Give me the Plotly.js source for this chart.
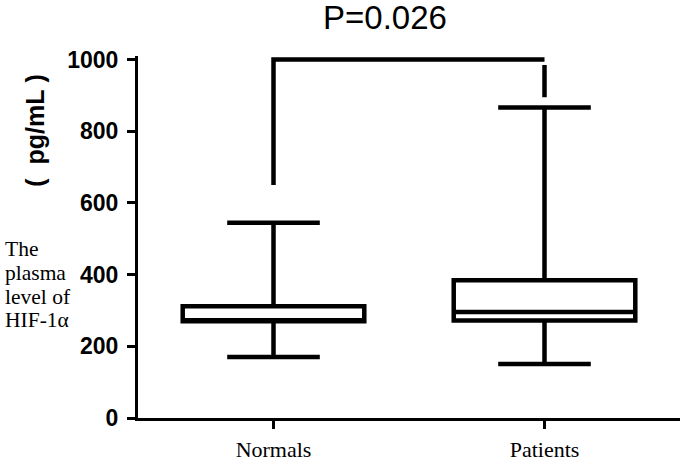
<!DOCTYPE html>
<html>
<head>
<meta charset="utf-8">
<script src="https://cdn.plot.ly/plotly-3.0.1.min.js"></script>
<style>html,body{margin:0;padding:0;background:#fff;}#chart{width:685px;height:462px;}</style>
</head>
<body>
<div id="chart"></div>
<script>
// Data
var groups = ['Normals', 'Patients'];
var lowerFence = [170, 151];
var q1 = [270, 272];
var median = [272, 296];
var q3 = [312, 384];
var upperFence = [545, 866];

var yTickVals = [0, 200, 400, 600, 800, 1000];
var yTickText = ['0', '200', '400', '600', '800', '1000'];

// significance bracket
var bracketX = ['Normals', 'Normals', 'Patients'];
var bracketY = [650, 1000, 1000];
var bracketTickX = ['Patients', 'Patients'];
var bracketTickY = [985, 895];

var pText = 'P=0.026';
var unitText = '(\u00A0\u00A0pg/mL\u00A0)';
var labelLines = ['The', 'plasma', 'level of', 'HIF-1\u03B1'];

var traces = [
  {
    type: 'box',
    x: groups,
    q1: q1,
    median: median,
    q3: q3,
    lowerfence: lowerFence,
    upperfence: upperFence,
    boxpoints: false,
    width: 0.67,
    whiskerwidth: 0.51,
    fillcolor: '#ffffff',
    line: {color: '#000000', width: 4.5},
    hoverinfo: 'skip',
    showlegend: false
  },
  {
    type: 'scatter', mode: 'lines',
    x: bracketX, y: bracketY,
    line: {color: '#000000', width: 4.5},
    cliponaxis: false, showlegend: false, hoverinfo: 'skip'
  },
  {
    type: 'scatter', mode: 'lines',
    x: bracketTickX, y: bracketTickY,
    line: {color: '#000000', width: 4.5},
    cliponaxis: false, showlegend: false, hoverinfo: 'skip'
  }
];

var yMax = 1010;
var plotL = 138, plotR = 680, plotB = 418;
var pxPerUnit = (418 - 60) / 1000;
var plotT = plotB - yMax * pxPerUnit;
var pw = plotR - plotL, ph = plotB - plotT;

var annotations = [
  {
    text: unitText, xref: 'paper', yref: 'paper',
    x: (35 - plotL) / pw, y: (plotB - 131) / ph,
    textangle: -90, showarrow: false, xanchor: 'center', yanchor: 'middle',
    font: {family: 'Liberation Sans, Arial, sans-serif', size: 25, color: '#000', weight: 'bold'}
  }
];
var lineYs = [249, 273, 297, 320];
for (var i = 0; i < labelLines.length; i++) {
  annotations.push({
    text: labelLines[i], xref: 'paper', yref: 'paper',
    x: (3 - plotL) / pw, y: (plotB - lineYs[i]) / ph,
    showarrow: false, xanchor: 'left', yanchor: 'middle',
    font: {family: 'Liberation Serif, Times New Roman, serif', size: 21.5, color: '#000'}
  });
}

var layout = {
  width: 685, height: 462,
  margin: {l: plotL, r: 685 - plotR, t: plotT, b: 462 - plotB},
  paper_bgcolor: '#ffffff', plot_bgcolor: '#ffffff',
  title: {
    text: pText, xref: 'container', yref: 'container',
    x: 385 / 685, y: 1 - 17 / 462, xanchor: 'center', yanchor: 'middle',
    font: {family: 'Liberation Sans, Arial, sans-serif', size: 33, color: '#000'}
  },
  xaxis: {
    type: 'category', range: [-0.5, 1.5],
    showline: true, linecolor: '#000', linewidth: 3,
    ticks: 'outside', ticklen: 8, tickwidth: 3, tickcolor: '#000',
    showgrid: false, zeroline: false, fixedrange: true,
    ticklabelstandoff: 2,
    tickfont: {family: 'Liberation Serif, Times New Roman, serif', size: 22, color: '#000'}
  },
  yaxis: {
    range: [0, yMax],
    tickvals: yTickVals, ticktext: yTickText,
    showline: true, linecolor: '#000', linewidth: 3,
    ticks: 'outside', ticklen: 8, tickwidth: 3, tickcolor: '#000',
    showgrid: false, zeroline: false, fixedrange: true,
    ticklabelstandoff: 4,
    tickfont: {family: 'Liberation Sans, Arial, sans-serif', size: 23, color: '#000', weight: 'bold'}
  },
  annotations: annotations,
  showlegend: false
};

Plotly.newPlot('chart', traces, layout, {displayModeBar: false, staticPlot: true});
</script>
</body>
</html>
